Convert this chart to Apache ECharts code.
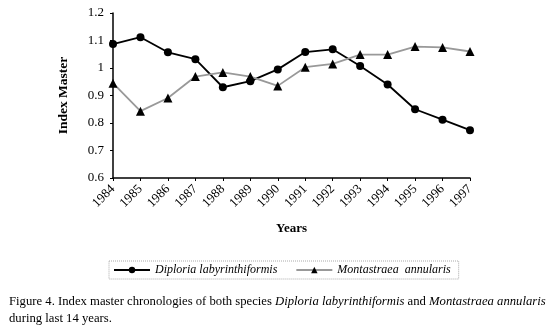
<!DOCTYPE html>
<html><head><meta charset="utf-8">
<script src="https://cdn.jsdelivr.net/npm/echarts@6/dist/echarts.min.js"></script>
<style>html,body{margin:0;padding:0;background:#fff}#c{width:551px;height:332px}</style>
</head><body><div id="c"></div>
<script>
var years = ['1984','1985','1986','1987','1988','1989','1990','1991','1992','1993','1994','1995','1996','1997'];
var diploria = [1.087,1.112,1.057,1.032,0.930,0.952,0.995,1.058,1.068,1.007,0.940,0.850,0.812,0.774];
var montastraea = [0.945,0.843,0.891,0.969,0.984,0.969,0.935,1.003,1.015,1.049,1.049,1.078,1.075,1.060];
var yTicks = [0.6,0.7,0.8,0.9,1,1.1,1.2];
var serif = '"Liberation Serif","DejaVu Serif",serif';
var chart = echarts.init(document.getElementById('c'));
chart.setOption({
  animation:false,
  backgroundColor:'#fff',
  grid:{left:113,right:81,top:13,bottom:154,containLabel:false},
  title:{
    text:'Figure 4. Index master chronologies of both species {i|Diploria labyrinthiformis} and {i|Montastraea annularis}\nduring last 14 years.',
    left:4, top:288,
    textStyle:{fontFamily:serif,fontSize:12.7,fontWeight:'normal',color:'#000',lineHeight:17,
      rich:{i:{fontFamily:serif,fontSize:12.7,fontStyle:'italic',color:'#000'}}}
  },
  legend:{
    left:109, top:261, orient:'horizontal',
    itemWidth:36, itemHeight:8, itemGap:18,
    padding:[3,8,3,4],
    borderColor:'#aaa', borderWidth:1, borderType:'dotted',
    textStyle:{fontFamily:serif,fontSize:12,fontStyle:'italic',color:'#000'},
    data:['Diploria labyrinthiformis','Montastraea  annularis']
  },
  xAxis:{
    type:'category', data:years, boundaryGap:false,
    name:'Years', nameLocation:'middle', nameGap:44,
    nameTextStyle:{fontFamily:serif,fontSize:13,fontWeight:'bold',color:'#000'},
    axisLine:{lineStyle:{color:'#000',width:1.5}},
    axisTick:{show:true,length:3,lineStyle:{color:'#000'}},
    axisLabel:{rotate:45,fontFamily:serif,fontSize:13,color:'#000',margin:9,interval:0},
    splitLine:{show:false}
  },
  yAxis:{
    type:'value', min:0.6, max:1.2, interval:0.1,
    name:'Index Master', nameLocation:'middle', nameGap:42, nameRotate:90,
    nameTextStyle:{fontFamily:serif,fontSize:13.5,fontWeight:'bold',color:'#000'},
    axisLine:{show:true,lineStyle:{color:'#000',width:1.5}},
    axisTick:{show:true,length:3,lineStyle:{color:'#000'}},
    axisLabel:{fontFamily:serif,fontSize:13,color:'#000',margin:9,
      formatter:function(v){var r=Math.round(v*10)/10; return yTicks.indexOf(r)>=0 ? String(r) : '';}},
    splitLine:{show:false}
  },
  series:[
    {name:'Diploria labyrinthiformis',type:'line',data:diploria,symbol:'circle',symbolSize:8,
      lineStyle:{color:'#000',width:1.8},itemStyle:{color:'#000'}},
    {name:'Montastraea  annularis',type:'line',data:montastraea,symbol:'triangle',symbolSize:9,
      lineStyle:{color:'#999',width:1.8},itemStyle:{color:'#000'}}
  ]
});
</script></body></html>
